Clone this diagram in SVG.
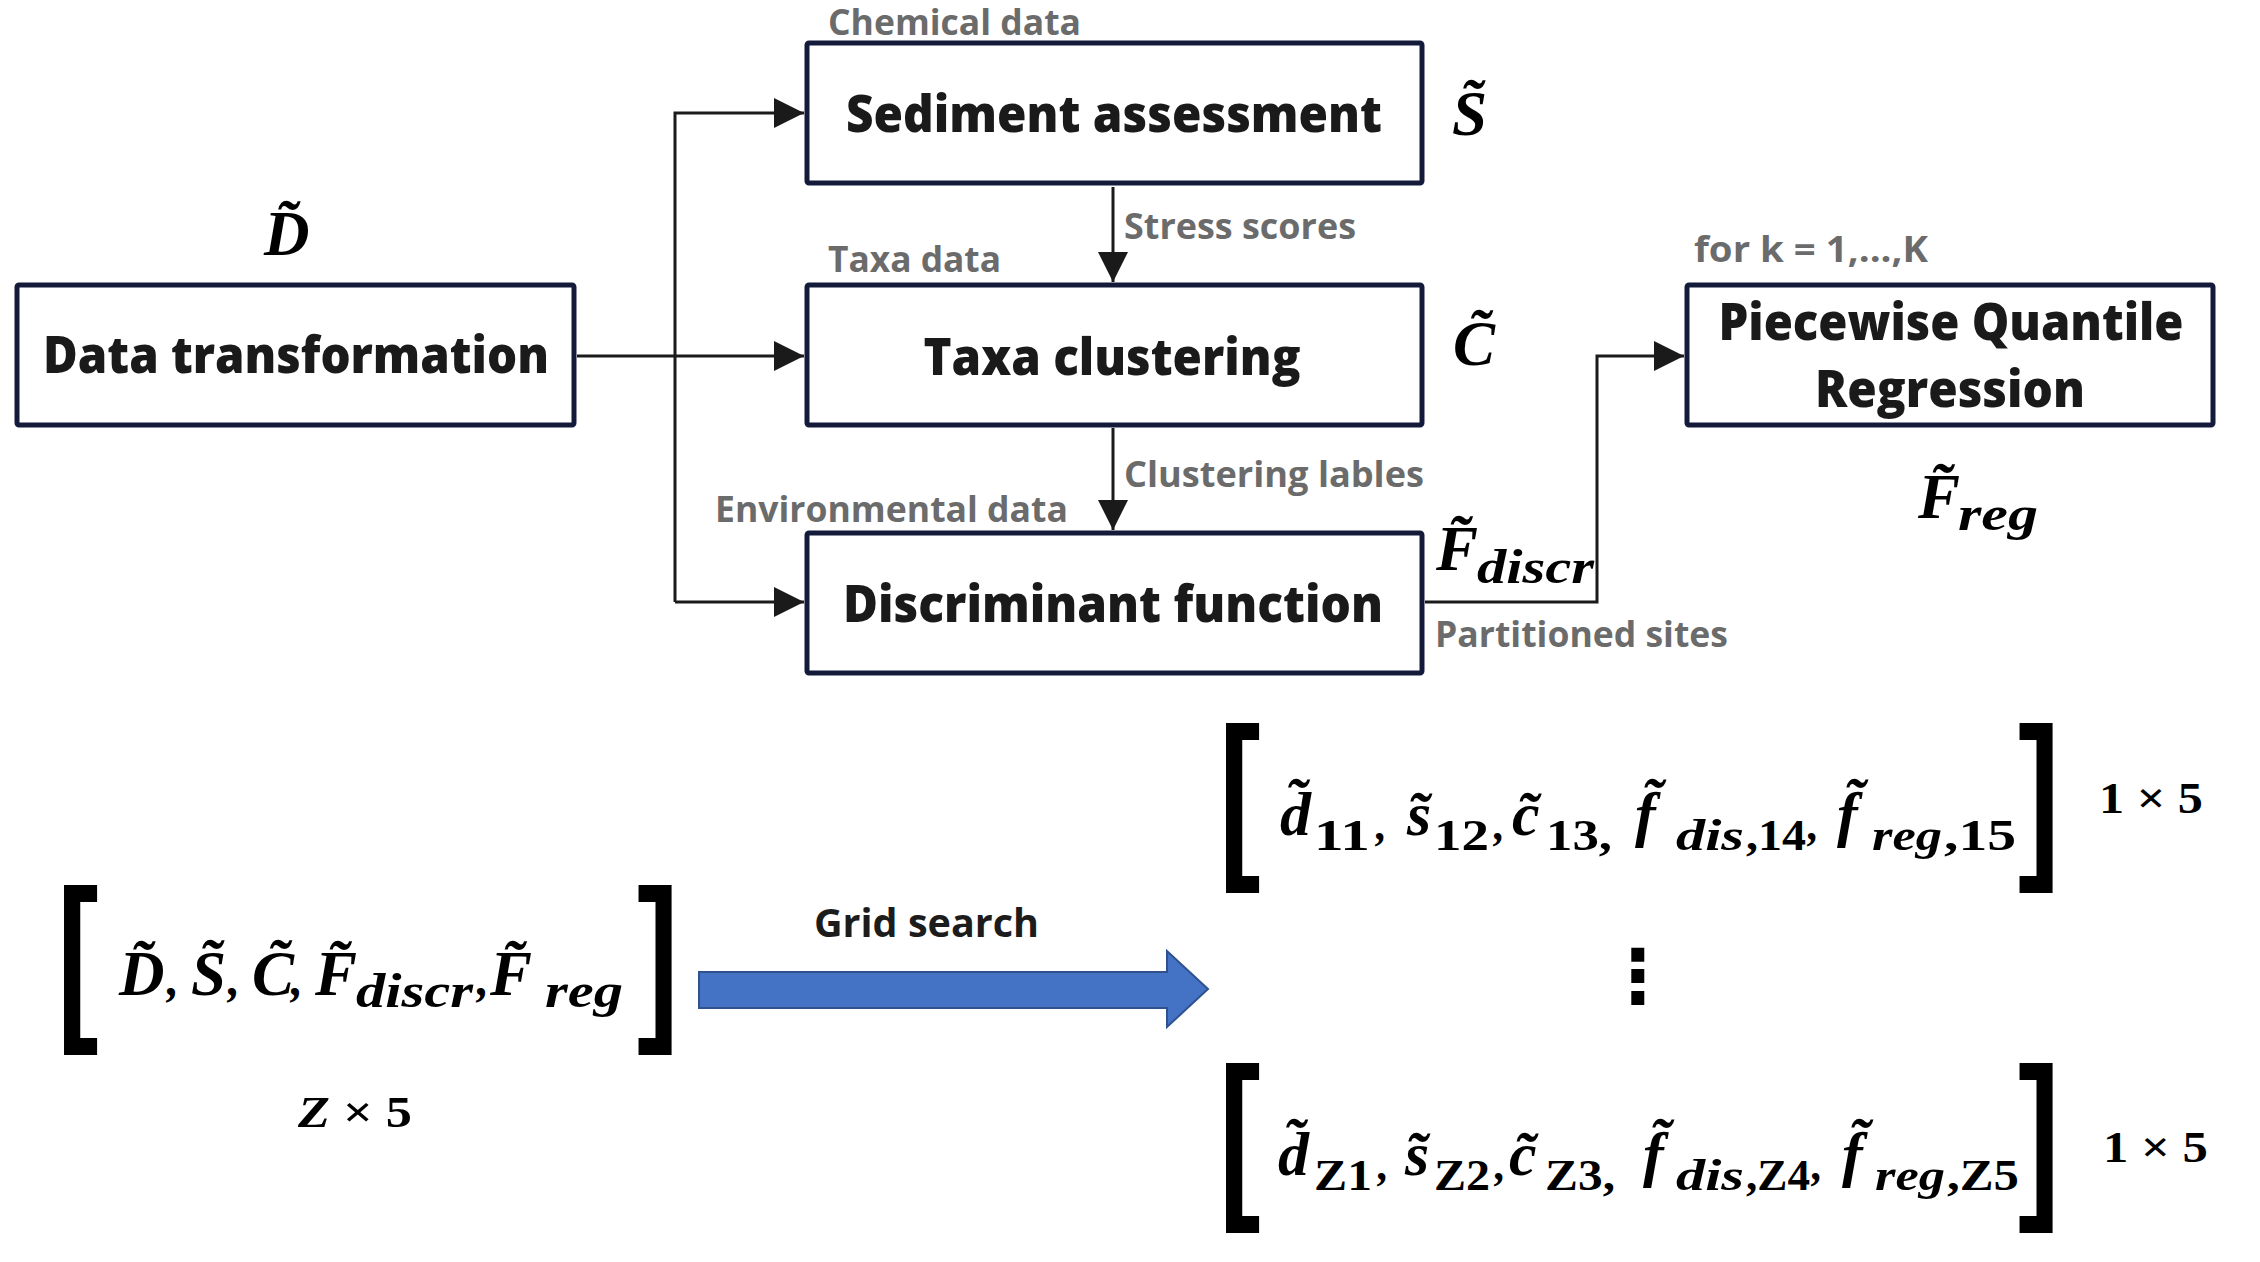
<svg xmlns="http://www.w3.org/2000/svg" width="2260" height="1262" viewBox="0 0 2260 1262">
<style>
.box{fill:#ffffff;stroke:#141a3a;stroke-width:5}
.bt{font-family:'Open Sans','Noto Sans','Liberation Sans',sans-serif;font-weight:800;font-size:52px;fill:#1a1a1a;text-anchor:middle}
.lab{font-family:'Open Sans','Noto Sans','Liberation Sans',sans-serif;font-weight:700;font-size:35px;fill:#6b6b6b}
.gs{font-family:'Open Sans','Noto Sans','Liberation Sans',sans-serif;font-weight:700;font-size:40px;fill:#1c1c1c}
.m{font-family:'Liberation Serif','DejaVu Serif',serif;font-weight:700;font-style:italic;font-size:63px;fill:#000000}
.m2{font-family:'Liberation Serif','DejaVu Serif',serif;font-weight:700;font-style:italic;font-size:62px;fill:#000000}
.s{font-size:48px}
.s2{font-size:44px}
.up{font-style:normal}
.br{font-family:'Liberation Sans','Arial',sans-serif;font-weight:700;font-size:125px;fill:#000000}
.dim{font-family:'Liberation Serif','DejaVu Serif',serif;font-weight:700;font-size:45px;fill:#000000}
.conn{fill:none;stroke:#1a1a1a;stroke-width:3}
</style>
<defs>
<marker id="ah" markerUnits="userSpaceOnUse" markerWidth="30" markerHeight="30" refX="30" refY="15" orient="auto">
<path d="M0,0 L30,15 L0,30 Z" fill="#1a1a1a"/>
</marker>
</defs>
<rect width="2260" height="1262" fill="#ffffff"/>

<g id="connectors">
<path class="conn" d="M577,356 H804" marker-end="url(#ah)"/>
<path class="conn" d="M675,602 V113 H804" marker-end="url(#ah)"/>
<path class="conn" d="M675,602 H804" marker-end="url(#ah)"/>
<path class="conn" d="M1113,187 V282" marker-end="url(#ah)"/>
<path class="conn" d="M1113,428 V530" marker-end="url(#ah)"/>
<path class="conn" d="M1425,602 H1597 V356 H1684" marker-end="url(#ah)"/>
<path id="grid-arrow" d="M699,972 H1167 V951 L1208,989 L1167,1027 V1008 H699 Z" fill="#4472c4" stroke="#2f528f" stroke-width="2"/>
</g>

<g id="data-transformation">
<rect class="box" x="17" y="285" width="557" height="140" rx="2"/>
<text class="bt" x="296" y="373" textLength="506" lengthAdjust="spacingAndGlyphs">Data transformation</text>
<text class="m" x="264" y="255">D̃</text>
</g>

<g id="sediment-assessment">
<text class="lab" x="828" y="35" font-size="34" textLength="253" lengthAdjust="spacingAndGlyphs">Chemical data</text>
<rect class="box" x="807" y="43" width="615" height="140" rx="2"/>
<text class="bt" x="1114" y="132" textLength="536" lengthAdjust="spacingAndGlyphs">Sediment assessment</text>
<text class="m" x="1452" y="135">S̃</text>
</g>

<g id="taxa-clustering">
<text class="lab" x="1124" y="239" textLength="232" lengthAdjust="spacingAndGlyphs">Stress scores</text>
<text class="lab" x="828" y="272" textLength="173" lengthAdjust="spacingAndGlyphs">Taxa data</text>
<rect class="box" x="807" y="285" width="615" height="140" rx="2"/>
<text class="bt" x="1112" y="375" textLength="377" lengthAdjust="spacingAndGlyphs">Taxa clustering</text>
<text class="m" x="1453" y="365">C̃</text>
</g>

<g id="discriminant-function">
<text class="lab" x="1124" y="487" textLength="300" lengthAdjust="spacingAndGlyphs">Clustering lables</text>
<text class="lab" x="715" y="522" textLength="353" lengthAdjust="spacingAndGlyphs">Environmental data</text>
<rect class="box" x="807" y="533" width="615" height="140" rx="2"/>
<text class="bt" x="1113" y="622" textLength="540" lengthAdjust="spacingAndGlyphs">Discriminant function</text>
<text class="m" x="1436" y="570">F̃<tspan class="s" x="1477" y="583" textLength="117" lengthAdjust="spacingAndGlyphs">discr</tspan></text>
<text class="lab" x="1435" y="647" textLength="293" lengthAdjust="spacingAndGlyphs">Partitioned sites</text>
</g>

<g id="piecewise-quantile-regression">
<text class="lab" x="1694" y="262" textLength="234" lengthAdjust="spacingAndGlyphs">for k = 1,...,K</text>
<rect class="box" x="1687" y="285" width="526" height="140" rx="2"/>
<text class="bt" x="1951" y="340" textLength="465" lengthAdjust="spacingAndGlyphs">Piecewise Quantile</text>
<text class="bt" x="1950" y="407" textLength="270" lengthAdjust="spacingAndGlyphs">Regression</text>
<text class="m" x="1918" y="518">F̃<tspan class="s" x="1958" y="530" textLength="80" lengthAdjust="spacingAndGlyphs">reg</tspan></text>
</g>

<g id="input-matrix">
<text class="br" transform="translate(57,1017) scale(1,1.45)">[</text>
<text class="br" transform="translate(637,1017) scale(1,1.45)">]</text>
<text class="m" y="995"><tspan x="119">D̃</tspan><tspan x="167" class="s">,</tspan><tspan x="191">S̃</tspan><tspan x="228" class="s">,</tspan><tspan x="252">C̃</tspan><tspan x="291" class="s">,</tspan><tspan x="315">F̃</tspan><tspan class="s" x="356" y="1007" textLength="117" lengthAdjust="spacingAndGlyphs">discr</tspan><tspan class="s" x="477" y="995">,</tspan><tspan x="490">F̃</tspan><tspan class="s" x="545" y="1007" textLength="78" lengthAdjust="spacingAndGlyphs">reg</tspan></text>
<text class="dim" x="298" y="1127" textLength="114" lengthAdjust="spacingAndGlyphs"><tspan font-style="italic">Z</tspan> × 5</text>
</g>

<g id="grid-search">
<text class="gs" x="814" y="937" textLength="225" lengthAdjust="spacingAndGlyphs">Grid search</text>
</g>

<g id="row-1">
<text class="br" transform="translate(1219,855) scale(1,1.45)">[</text>
<text class="br" transform="translate(2018,855) scale(1,1.45)">]</text>
<text class="m2" y="835"><tspan x="1280">d̃</tspan><tspan class="s2 up" x="1314" y="850" textLength="56" lengthAdjust="spacingAndGlyphs">11</tspan><tspan class="s2" x="1376" y="840">,</tspan><tspan x="1407" y="835">s̃</tspan><tspan class="s2 up" x="1434" y="850" textLength="55" lengthAdjust="spacingAndGlyphs">12</tspan><tspan class="s2" x="1494" y="840">,</tspan><tspan x="1512" y="835">c̃</tspan><tspan class="s2 up" x="1546" y="850" textLength="66" lengthAdjust="spacingAndGlyphs">13,</tspan><tspan x="1635" y="835">f̃</tspan><tspan class="s2" x="1676" y="850" textLength="68" lengthAdjust="spacingAndGlyphs">dis</tspan><tspan class="s2 up" x="1746" y="850" textLength="60" lengthAdjust="spacingAndGlyphs">,14</tspan><tspan class="s2" x="1808" y="840">,</tspan><tspan x="1837" y="835">f̃</tspan><tspan class="s2" x="1872" y="850" textLength="70" lengthAdjust="spacingAndGlyphs">reg</tspan><tspan class="s2 up" x="1944" y="850" textLength="72" lengthAdjust="spacingAndGlyphs">,15</tspan></text>
<text class="dim" x="2099" y="813" textLength="104" lengthAdjust="spacingAndGlyphs">1 × 5</text>
</g>

<g id="ellipsis">
<text x="1638" y="1002" text-anchor="middle" font-family="'DejaVu Sans',sans-serif" font-weight="700" font-size="74" fill="#000000">⋮</text>
</g>

<g id="row-z">
<text class="br" transform="translate(1219,1195) scale(1,1.45)">[</text>
<text class="br" transform="translate(2018,1195) scale(1,1.45)">]</text>
<text class="m2" y="1175"><tspan x="1278">d̃</tspan><tspan class="s2 up" x="1314" y="1190" textLength="58" lengthAdjust="spacingAndGlyphs">Z1</tspan><tspan class="s2" x="1378" y="1180">,</tspan><tspan x="1405" y="1175">s̃</tspan><tspan class="s2 up" x="1434" y="1190" textLength="56" lengthAdjust="spacingAndGlyphs">Z2</tspan><tspan class="s2" x="1495" y="1180">,</tspan><tspan x="1509" y="1175">c̃</tspan><tspan class="s2 up" x="1545" y="1190" textLength="70" lengthAdjust="spacingAndGlyphs">Z3,</tspan><tspan x="1643" y="1175">f̃</tspan><tspan class="s2" x="1676" y="1190" textLength="68" lengthAdjust="spacingAndGlyphs">dis</tspan><tspan class="s2 up" x="1746" y="1190" textLength="64" lengthAdjust="spacingAndGlyphs">,Z4</tspan><tspan class="s2" x="1812" y="1180">,</tspan><tspan x="1842" y="1175">f̃</tspan><tspan class="s2" x="1875" y="1190" textLength="70" lengthAdjust="spacingAndGlyphs">reg</tspan><tspan class="s2 up" x="1947" y="1190" textLength="72" lengthAdjust="spacingAndGlyphs">,Z5</tspan></text>
<text class="dim" x="2103" y="1162" textLength="105" lengthAdjust="spacingAndGlyphs">1 × 5</text>
</g>
</svg>
